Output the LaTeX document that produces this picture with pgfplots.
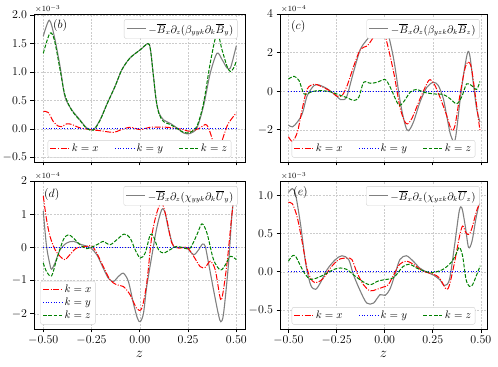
\documentclass[border=0pt]{standalone}
\usepackage{pgfplots}
\pgfplotsset{compat=1.18}
\usepackage{amsmath}
\definecolor{mgreen}{rgb}{0,0.5,0}
\definecolor{mgray}{rgb}{0.5,0.5,0.5}

\tikzset{
  mult/.style={anchor=south west, inner sep=1bp, font=\fontsize{8.5}{10}\selectfont},
  plab/.style={anchor=north west, inner sep=0pt, font=\fontsize{11.5}{13}\selectfont},
}
\pgfplotsset{
  shortleg/.style={legend image code/.code={\draw[##1] (0bp,0bp) -- (19bp,0bp);}},
  panel/.style={
    scale only axis, height=148bp,
    xtick={-0.5,-0.25,0,0.25,0.5},
    tick pos=left, tick align=outside, major tick length=3.5bp,
    grid=major, major grid style={draw=gray!40, dash pattern=on 2pt off 1.3pt, line width=0.4pt},
    axis line style={draw=black, line width=0.6pt},
    tick style={draw=black, line width=0.6pt},
    ticklabel style={font=\fontsize{12.5}{14}\selectfont},
    scaled ticks=false,
    xticklabel style={/pgf/number format/.cd, fixed, fixed zerofill, precision=2},
    clip mode=individual,
    xlabel style={font=\fontsize{14}{16}\selectfont},
    legend cell align=left,
    shortleg,
  },
  lpanel/.style={panel, width=211bp, xmin=-0.548, xmax=0.545},
  rpanel/.style={panel, width=207bp, xmin=-0.544, xmax=0.532},
  notop/.style={xticklabels={}},
  kx/.style={draw=red, line width=1pt, dash pattern=on 6pt off 1.6pt on 1pt off 1.6pt, smooth},
  ky/.style={draw=blue, line width=1pt, dash pattern=on 1pt off 1.65pt},
  kz/.style={draw=mgreen, line width=1pt, dash pattern=on 3.7pt off 1.6pt, smooth},
  tot/.style={draw=mgray, line width=1.1pt, smooth},
  legbox/.style={draw=black!18, rounded corners=2pt, fill=white,
    font=\fontsize{10.5}{12}\selectfont, inner sep=2bp},
  botleg/.style={legend style={legbox, at={(0.5,0.03)}, anchor=south, legend columns=3,
    /tikz/every even column/.append style={column sep=14bp}}},
  totleg/.style={scale only axis, hide axis, xmin=0, xmax=1, ymin=0, ymax=1, shortleg,
    legend style={legbox, at={(0.965,0.965)}, anchor=north east}},
}

\begin{document}
\begin{tikzpicture}
\useasboundingbox (0,0) rectangle (498bp,367bp);

% ---------- (b)
\begin{axis}[lpanel, notop, at={(34bp,205bp)}, ymin=-0.58, ymax=2.02,
  ytick={-0.5,0,0.5,1,1.5,2},
  yticklabel style={/pgf/number format/.cd, fixed, fixed zerofill, precision=1},
  botleg]
\addplot[tot, forget plot] coordinates {(-0.5,1.63)(-0.469,1.91)(-0.443,1.63)(-0.413,1.10)(-0.388,0.57)(-0.353,0.34)(-0.310,0.16)(-0.275,0.02)(-0.240,-0.01)(-0.206,0.16)(-0.171,0.43)(-0.128,0.75)(-0.093,1.04)(-0.050,1.25)(0.002,1.39)(0.042,1.50)(0.055,1.40)(0.071,0.92)(0.085,0.50)(0.100,0.28)(0.123,0.16)(0.157,0.10)(0.192,0.02)(0.227,-0.07)(0.261,-0.08)(0.296,0.02)(0.330,0.40)(0.365,0.98)(0.400,1.33)(0.426,1.22)(0.452,1.07)(0.469,1.07)(0.486,1.27)(0.500,1.46)};
\addplot[kx] coordinates {(-0.5,0.31)(-0.474,0.29)(-0.448,0.13)(-0.422,0.05)(-0.405,0.04)(-0.379,0.09)(-0.353,0.08)(-0.310,0.02)(-0.258,-0.01)(-0.206,-0.03)(-0.137,-0.06)(-0.102,-0.02)(-0.050,0.03)(0.002,-0.01)(0.054,0.03)(0.140,0.03)(0.209,0.00)(0.261,-0.04)(0.313,0.02)(0.339,0.08)(0.356,0.02)(0.382,-0.25)(0.400,-0.45)(0.417,-0.30)(0.452,0.05)(0.478,0.19)(0.500,0.28)};
\addplot[ky] coordinates {(-0.5,0)(0.5,0)};
\addplot[kz] coordinates {(-0.5,1.33)(-0.466,1.68)(-0.443,1.57)(-0.413,1.04)(-0.388,0.60)(-0.353,0.33)(-0.310,0.15)(-0.275,0.01)(-0.240,-0.02)(-0.206,0.15)(-0.171,0.43)(-0.128,0.75)(-0.093,1.04)(-0.050,1.25)(0.002,1.39)(0.042,1.50)(0.055,1.40)(0.071,0.92)(0.085,0.50)(0.100,0.26)(0.123,0.13)(0.157,0.08)(0.192,0.01)(0.227,-0.06)(0.261,-0.06)(0.296,0.05)(0.330,0.45)(0.365,1.16)(0.400,1.68)(0.426,1.39)(0.452,1.10)(0.469,1.01)(0.486,1.07)(0.500,1.19)};
\legend{$k=x$,$k=y$,$k=z$}
\node[mult] at (rel axis cs:0,1) {$\times10^{-3}$};
\node[plab] at (rel axis cs:0.09,0.965) {$(b)$};
\end{axis}
\begin{axis}[totleg, width=211bp, height=148bp, at={(34bp,205bp)}]
\addlegendimage{tot}
\addlegendentry{$-\overline{B}_x\partial_z(\beta_{yyk}\partial_k\overline{B}_y)$}
\end{axis}

% ---------- (c)
\begin{axis}[rpanel, notop, at={(280bp,205bp)}, ymin=-3.67, ymax=4.0,
  ytick={-2,0,2,4}, botleg]
\addplot[tot, forget plot] coordinates {(-0.5,-1.76)(-0.479,-1.85)(-0.453,-1.59)(-0.428,-1.16)(-0.402,-0.22)(-0.367,0.29)(-0.341,0.32)(-0.298,0.12)(-0.264,-0.14)(-0.229,-0.44)(-0.212,-0.44)(-0.195,-0.22)(-0.160,1.06)(-0.126,2.17)(-0.091,2.68)(-0.057,3.11)(-0.031,3.54)(-0.014,3.68)(0.012,3.20)(0.047,1.66)(0.081,-0.56)(0.107,-1.76)(0.124,-2.05)(0.150,-1.59)(0.184,-0.56)(0.219,0.20)(0.253,0.46)(0.279,0.29)(0.305,-0.39)(0.322,-1.25)(0.343,-2.27)(0.366,-2.53)(0.391,-0.56)(0.409,0.80)(0.431,2.00)(0.443,1.83)(0.460,0.46)(0.478,-0.90)(0.495,-1.59)};
\addplot[kx] coordinates {(-0.5,-2.36)(-0.479,-2.60)(-0.453,-2.10)(-0.428,-0.90)(-0.402,0.12)(-0.367,0.36)(-0.333,0.26)(-0.281,0.00)(-0.247,-0.26)(-0.221,-0.22)(-0.195,0.29)(-0.160,1.32)(-0.126,2.17)(-0.091,2.34)(-0.066,2.68)(-0.040,3.11)(-0.022,3.11)(0.003,2.85)(0.047,0.97)(0.081,-0.90)(0.112,-1.68)(0.141,-1.42)(0.184,-0.39)(0.219,0.38)(0.236,0.60)(0.262,0.29)(0.297,-0.56)(0.322,-1.25)(0.348,-2.02)(0.366,-1.76)(0.391,-0.22)(0.417,1.15)(0.434,1.52)(0.452,1.15)(0.478,-0.73)(0.495,-2.02)};
\addplot[ky] coordinates {(-0.5,0)(0.5,0)};
\addplot[kz] coordinates {(-0.5,0.63)(-0.471,0.77)(-0.445,0.55)(-0.419,-0.14)(-0.384,-0.05)(-0.350,0.03)(-0.298,0.00)(-0.264,-0.09)(-0.229,-0.22)(-0.195,-0.34)(-0.160,-0.48)(-0.134,-0.31)(-0.109,0.46)(-0.074,0.41)(-0.040,0.46)(0.003,0.60)(0.029,0.20)(0.072,-0.70)(0.098,-0.56)(0.133,-0.05)(0.167,0.09)(0.202,-0.05)(0.253,-0.14)(0.305,-0.17)(0.340,-0.39)(0.374,-0.65)(0.400,-0.31)(0.426,0.38)(0.452,0.29)(0.478,0.09)(0.495,0.50)};
\legend{$k=x$,$k=y$,$k=z$}
\node[mult] at (rel axis cs:0,1) {$\times10^{-4}$};
\node[plab] at (rel axis cs:0.053,0.96) {$(c)$};
\end{axis}
\begin{axis}[totleg, width=207bp, height=148bp, at={(280bp,205bp)}]
\addlegendimage{tot}
\addlegendentry{$-\overline{B}_x\partial_z(\beta_{yzk}\partial_k\overline{B}_z)$}
\end{axis}

% ---------- (d)
\begin{axis}[lpanel, at={(34bp,38bp)}, ymin=-2.46, ymax=2.0,
  ytick={-2,-1,0,1,2}, xlabel={$z$},
  legend style={legbox, at={(0.03,0.03)}, anchor=south west}]
\addplot[tot, forget plot] coordinates {(-0.5,1.09)(-0.483,0.03)(-0.465,-0.53)(-0.457,-0.66)(-0.439,-0.47)(-0.413,-0.07)(-0.379,0.13)(-0.344,0.18)(-0.301,0.08)(-0.258,0.00)(-0.223,-0.22)(-0.189,-0.63)(-0.163,-0.93)(-0.137,-1.03)(-0.111,-0.88)(-0.085,-0.78)(-0.059,-1.03)(-0.033,-1.69)(-0.012,-2.14)(0.002,-2.24)(0.019,-1.99)(0.036,-1.18)(0.062,-0.27)(0.088,0.59)(0.114,1.14)(0.131,1.04)(0.149,0.54)(0.175,0.03)(0.209,0.00)(0.244,-0.02)(0.279,-0.22)(0.305,-0.07)(0.325,0.10)(0.339,0.03)(0.356,-0.47)(0.382,-1.28)(0.408,-2.04)(0.420,-2.24)(0.434,-1.99)(0.460,-0.47)(0.478,1.04)(0.495,1.75)};
\addplot[kx] coordinates {(-0.5,1.55)(-0.483,0.84)(-0.465,0.33)(-0.439,-0.07)(-0.413,-0.27)(-0.388,-0.37)(-0.362,-0.22)(-0.327,-0.02)(-0.275,0.03)(-0.249,0.05)(-0.223,-0.17)(-0.189,-0.58)(-0.154,-0.98)(-0.119,-1.13)(-0.085,-1.18)(-0.050,-1.43)(-0.016,-1.84)(0.010,-1.84)(0.036,-1.08)(0.062,0.33)(0.088,1.04)(0.114,1.34)(0.140,0.84)(0.166,0.13)(0.201,-0.02)(0.244,0.00)(0.279,-0.27)(0.313,-0.58)(0.339,-0.60)(0.365,-0.42)(0.391,-0.68)(0.417,-1.54)(0.429,-1.43)(0.452,-0.47)(0.478,1.04)(0.495,1.80)};
\addplot[ky] coordinates {(-0.5,0)(0.5,0)};
\addplot[kz] coordinates {(-0.5,-0.47)(-0.483,-0.73)(-0.457,-0.86)(-0.431,-0.37)(-0.396,0.23)(-0.370,0.38)(-0.344,0.28)(-0.310,0.08)(-0.275,-0.04)(-0.240,0.03)(-0.206,0.13)(-0.189,0.18)(-0.154,0.08)(-0.119,0.23)(-0.081,0.40)(-0.050,0.28)(-0.024,-0.07)(0.002,-0.32)(0.028,-0.17)(0.054,0.38)(0.071,0.33)(0.097,-0.07)(0.123,-0.17)(0.157,-0.07)(0.192,0.03)(0.227,-0.02)(0.261,-0.02)(0.296,0.38)(0.322,0.71)(0.348,0.43)(0.382,-0.37)(0.417,-0.68)(0.443,-0.53)(0.469,-0.27)(0.500,-0.37)};
\legend{$k=x$,$k=y$,$k=z$}
\node[mult] at (rel axis cs:0,1) {$\times10^{-4}$};
\node[plab] at (rel axis cs:0.047,0.952) {$(d)$};
\end{axis}
\begin{axis}[totleg, width=211bp, height=148bp, at={(34bp,38bp)}]
\addlegendimage{tot}
\addlegendentry{$-\overline{B}_x\partial_z(\chi_{yyk}\partial_k\overline{U}_y)$}
\end{axis}

% ---------- (e)
\begin{axis}[rpanel, at={(280bp,38bp)}, ymin=-0.75, ymax=1.19,
  ytick={-0.5,0,0.5,1}, xlabel={$z$},
  yticklabel style={/pgf/number format/.cd, fixed, fixed zerofill, precision=1},
  botleg]
\addplot[tot, forget plot] coordinates {(-0.5,1.04)(-0.479,1.09)(-0.462,1.00)(-0.436,0.60)(-0.411,0.12)(-0.385,-0.17)(-0.359,-0.23)(-0.333,-0.14)(-0.299,0.03)(-0.256,0.16)(-0.222,0.21)(-0.187,0.16)(-0.162,-0.04)(-0.127,-0.25)(-0.093,-0.41)(-0.058,-0.41)(-0.024,-0.30)(0.002,-0.31)(0.027,-0.23)(0.053,-0.04)(0.079,0.16)(0.113,0.21)(0.148,0.14)(0.182,0.05)(0.216,0.00)(0.251,-0.04)(0.285,-0.10)(0.311,-0.18)(0.337,-0.10)(0.363,0.34)(0.388,0.80)(0.402,0.83)(0.419,0.60)(0.436,0.32)(0.454,0.40)(0.474,0.69)(0.491,0.89)};
\addplot[kx] coordinates {(-0.5,0.91)(-0.479,0.89)(-0.454,0.71)(-0.428,0.38)(-0.402,0.03)(-0.376,-0.12)(-0.351,-0.14)(-0.316,-0.08)(-0.282,0.05)(-0.239,0.16)(-0.196,0.18)(-0.170,0.16)(-0.144,-0.01)(-0.110,-0.17)(-0.076,-0.25)(-0.041,-0.23)(-0.007,-0.20)(0.019,-0.17)(0.053,-0.01)(0.079,0.10)(0.113,0.14)(0.148,0.10)(0.199,0.01)(0.251,-0.03)(0.285,-0.08)(0.320,-0.23)(0.337,-0.17)(0.363,0.12)(0.388,0.45)(0.405,0.60)(0.423,0.51)(0.440,0.49)(0.457,0.60)(0.478,0.80)(0.497,0.91)};
\addplot[ky] coordinates {(-0.5,0)(0.5,0)};
\addplot[kz] coordinates {(-0.5,0.14)(-0.479,0.21)(-0.462,0.20)(-0.436,0.07)(-0.411,-0.04)(-0.385,-0.10)(-0.351,-0.08)(-0.308,-0.03)(-0.265,0.03)(-0.230,0.05)(-0.196,0.03)(-0.162,-0.04)(-0.119,-0.12)(-0.076,-0.17)(-0.033,-0.12)(0.010,-0.10)(0.045,-0.08)(0.070,-0.01)(0.096,0.07)(0.131,0.10)(0.165,0.05)(0.216,0.00)(0.251,-0.01)(0.302,0.03)(0.345,0.12)(0.371,0.23)(0.388,0.32)(0.405,0.21)(0.423,-0.10)(0.440,-0.19)(0.457,-0.17)(0.483,-0.01)(0.497,0.08)};
\legend{$k=x$,$k=y$,$k=z$}
\node[mult] at (rel axis cs:0,1) {$\times10^{-3}$};
\node[plab] at (rel axis cs:0.063,0.966) {$(e)$};
\end{axis}
\begin{axis}[totleg, width=207bp, height=148bp, at={(280bp,38bp)}]
\addlegendimage{tot}
\addlegendentry{$-\overline{B}_x\partial_z(\chi_{yzk}\partial_k\overline{U}_z)$}
\end{axis}
\end{tikzpicture}
\end{document}
